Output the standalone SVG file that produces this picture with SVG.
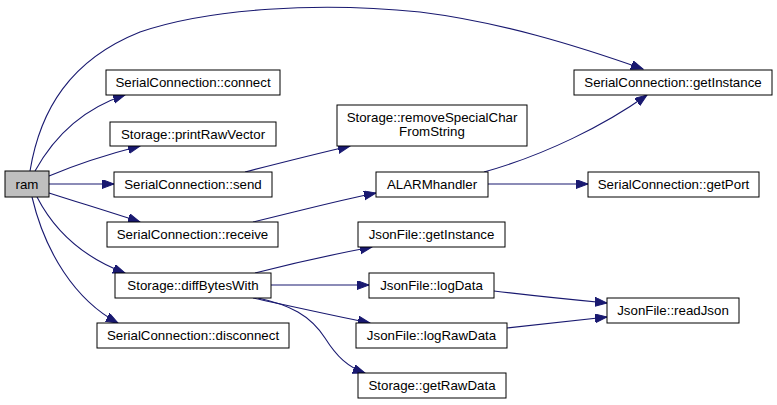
<svg xmlns="http://www.w3.org/2000/svg" width="777" height="405" viewBox="0 0 777 405">
<style>
.n rect{fill:#fff;stroke:#000;stroke-width:1}
.n text{font-family:"Liberation Sans",Arial,sans-serif;font-size:13.3px;text-anchor:middle;fill:#000}
.e path{fill:none;stroke:#191970;stroke-width:1.1}
</style>
<defs>
<marker id="ah" markerUnits="userSpaceOnUse" markerWidth="13" markerHeight="10" refX="12" refY="4.5" orient="auto">
<path d="M0,0 L12,4.5 L0,9 z" fill="#191970" stroke="#191970" stroke-width="1"/>
</marker>
</defs>
<rect width="777" height="405" fill="#fff"/>
<g id="edges" class="e">
<path marker-end="url(#ah)" d="M30,171 C40,110 70,60 140,32 C210,8 320,2 420,12 C500,22 575,45 643,69"/>
<path marker-end="url(#ah)" d="M35,171 C55,135 85,108 125,95"/>
<path marker-end="url(#ah)" d="M49,176 C75,165 105,155 140,146"/>
<path marker-end="url(#ah)" d="M49,184 L114,184"/>
<path marker-end="url(#ah)" d="M49,193 C80,203 110,212 140,222"/>
<path marker-end="url(#ah)" d="M37,197 C55,232 85,258 125,273"/>
<path marker-end="url(#ah)" d="M32,197 C45,252 75,300 118,323"/>
<path marker-end="url(#ah)" d="M245,172 C280,163 320,153 350,146"/>
<path marker-end="url(#ah)" d="M253,222 C295,212 340,200 376,193"/>
<path marker-end="url(#ah)" d="M484,172 C545,155 605,125 647,95"/>
<path marker-end="url(#ah)" d="M488,184 L588,184"/>
<path marker-end="url(#ah)" d="M255,273 C290,264 335,254 372,247"/>
<path marker-end="url(#ah)" d="M271,285 L369,285"/>
<path marker-end="url(#ah)" d="M253,298 C290,306 335,316 370,323"/>
<path marker-end="url(#ah)" d="M258,298 C290,305 310,315 325,338 C337,357 348,367 365,373"/>
<path marker-end="url(#ah)" d="M494,291 C535,296 575,300 607,303"/>
<path marker-end="url(#ah)" d="M507,328 C545,324 580,320 607,317"/>
</g>
<g id="ram" class="n"><rect x="5" y="171" width="44" height="26" style="fill:#bfbfbf"/><text x="27" y="188.5">ram</text></g>
<g id="sc_connect" class="n"><rect x="106" y="70" width="174" height="25"/><text x="193" y="87">SerialConnection::connect</text></g>
<g id="st_printRawVector" class="n"><rect x="110" y="122" width="166" height="24"/><text x="193" y="138.5">Storage::printRawVector</text></g>
<g id="sc_send" class="n"><rect x="114" y="172" width="158" height="25"/><text x="193" y="189">SerialConnection::send</text></g>
<g id="sc_receive" class="n"><rect x="107" y="222" width="171" height="25"/><text x="192.5" y="239">SerialConnection::receive</text></g>
<g id="st_diffBytesWith" class="n"><rect x="115" y="273" width="156" height="25"/><text x="193" y="290">Storage::diffBytesWith</text></g>
<g id="sc_disconnect" class="n"><rect x="97" y="323" width="192" height="25"/><text x="193" y="340">SerialConnection::disconnect</text></g>
<g id="st_removeSpecialChar" class="n"><rect x="337" y="105" width="190" height="41"/><text x="432" y="122">Storage::removeSpecialChar</text><text x="432" y="136">FromString</text></g>
<g id="alarmhandler" class="n"><rect x="376" y="172" width="112" height="25"/><text x="432" y="189">ALARMhandler</text></g>
<g id="jf_getInstance" class="n"><rect x="358" y="222" width="147" height="25"/><text x="431.5" y="239">JsonFile::getInstance</text></g>
<g id="jf_logData" class="n"><rect x="369" y="273" width="125" height="25"/><text x="431.5" y="290">JsonFile::logData</text></g>
<g id="jf_logRawData" class="n"><rect x="356" y="323" width="151" height="25"/><text x="431.5" y="340">JsonFile::logRawData</text></g>
<g id="st_getRawData" class="n"><rect x="358" y="373" width="148" height="25"/><text x="432" y="390">Storage::getRawData</text></g>
<g id="sc_getInstance" class="n"><rect x="574" y="70" width="198" height="25"/><text x="673" y="87">SerialConnection::getInstance</text></g>
<g id="sc_getPort" class="n"><rect x="588" y="172" width="171" height="25"/><text x="673.5" y="189">SerialConnection::getPort</text></g>
<g id="jf_readJson" class="n"><rect x="607" y="298" width="132" height="25"/><text x="673" y="315">JsonFile::readJson</text></g>
</svg>
